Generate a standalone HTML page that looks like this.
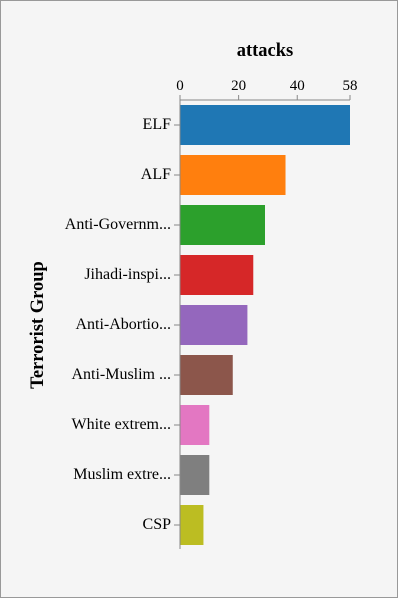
<!DOCTYPE html>
<html><head><meta charset="utf-8"><style>
body{margin:0;background:#fff}
svg{display:block;font-family:"Liberation Serif",serif}
</style></head><body>
<svg width="400" height="600">
<rect x="0.5" y="0.5" width="397" height="597" fill="#f5f5f5" stroke="#999"/>
<text x="265" y="56" text-anchor="middle" font-weight="bold" font-size="18.5">attacks</text>
<text transform="translate(43,325) rotate(-90)" text-anchor="middle" font-weight="bold" font-size="18.5">Terrorist Group</text>
<g id="plot"></g>
</svg>
<script>
const categories=["ELF","ALF","Anti-Governm...","Jihadi-inspi...","Anti-Abortio...","Anti-Muslim ...","White extrem...","Muslim extre...","CSP"];
const values=[58,36,29,25,23,18,10,10,8];
const colors=["#1f77b4","#ff7f0e","#2ca02c","#d62728","#9467bd","#8c564b","#e377c2","#7f7f7f","#bcbd22"];
const ticks=[0,20,40,58];
const NS="http://www.w3.org/2000/svg";
const g=document.getElementById('plot');
const x0=180,x1=350,maxV=58;
const x=v=>x0+(v/maxV)*(x1-x0);
const y=i=>105+i*50;
function mk(t,a){const e=document.createElementNS(NS,t);for(const k in a)e.setAttribute(k,a[k]);g.appendChild(e);return e;}
values.forEach((v,i)=>{
 const r=mk('rect',{x:x0,y:y(i),width:x(v)-x0,height:40,fill:colors[i]});
 
 
 const tk=mk('line',{x1:x0-6,x2:x0,y1:y(i)+20,y2:y(i)+20,stroke:'#888'});
 
 
 const l=mk('text',{x:x0-9,y:y(i)+24,'text-anchor':'end','font-size':16});
 l.textContent=categories[i];
 
 
});
const ya=mk('line',{x1:x0,x2:x0,y1:97,y2:549,stroke:'#888'});


const xa=mk('line',{x1:x0,x2:x1,y1:100,y2:100,stroke:'#888'});


ticks.forEach(t=>{
 const tk=mk('line',{x1:x(t),x2:x(t),y1:95,y2:100,stroke:'#888'});
 
 
 const l=mk('text',{x:x(t),y:90,'text-anchor':'middle','font-size':15});
 l.textContent=t;
 
 
});
</script>
</body></html>
